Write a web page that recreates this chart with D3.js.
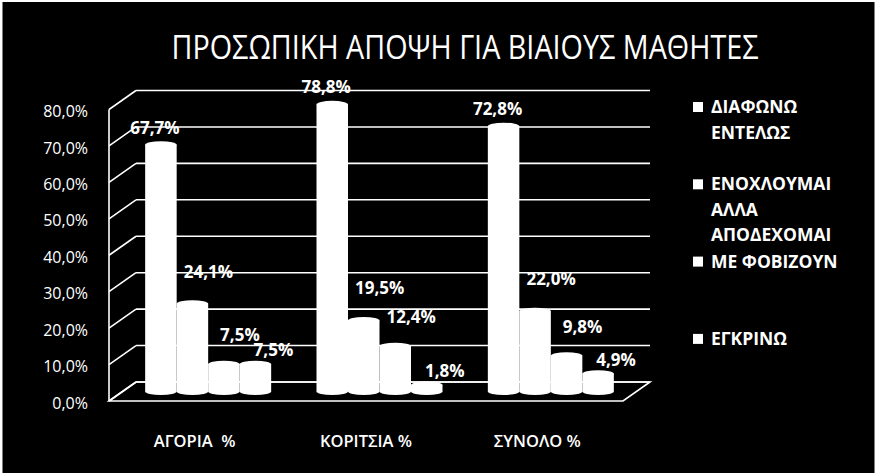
<!DOCTYPE html>
<html>
<head>
<meta charset="utf-8">
<script src="https://cdn.jsdelivr.net/npm/d3@7"></script>
<style>
  html, body { margin: 0; padding: 0; background: #fff; }
  svg { display: block; }
  text { font-family: "Open Sans", "DejaVu Sans", sans-serif; fill: #fff; }
</style>
</head>
<body>
<svg id="chart" width="877" height="473"></svg>
<script>
const title = 'ΠΡΟΣΩΠΙΚΗ ΑΠΟΨΗ ΓΙΑ ΒΙΑΙΟΥΣ ΜΑΘΗΤΕΣ';
const categories = ['ΑΓΟΡΙΑ  %', 'ΚΟΡΙΤΣΙΑ %', 'ΣΥΝΟΛΟ %'];
const seriesNames = ['ΔΙΑΦΩΝΩ ΕΝΤΕΛΩΣ', 'ΕΝΟΧΛΟΥΜΑΙ ΑΛΛΑ ΑΠΟΔΕΧΟΜΑΙ', 'ΜΕ ΦΟΒΙΖΟΥΝ', 'ΕΓΚΡΙΝΩ'];
const legendLines = [['ΔΙΑΦΩΝΩ', 'ΕΝΤΕΛΩΣ'], ['ΕΝΟΧΛΟΥΜΑΙ', 'ΑΛΛΑ', 'ΑΠΟΔΕΧΟΜΑΙ'], ['ΜΕ ΦΟΒΙΖΟΥΝ'], ['ΕΓΚΡΙΝΩ']];
const diafono = [67.7, 78.8, 72.8];
const enoxloumai = [24.1, 19.5, 22.0];
const fovizoun = [7.5, 12.4, 9.8];
const egkrino = [7.5, 1.8, 4.9];
const yTicks = [0, 10, 20, 30, 40, 50, 60, 70, 80];

const values = [diafono, enoxloumai, fovizoun, egkrino];

// 3D look: depth shift of the back wall
const DX = 27, DY = -19;
const barW = 31.5, ry = 3.5;
// label nudges per series (Excel places them a bit off the bar top)
const labelDx = [-6, 16, 16, 18];
const labelDy = [11, 26, 23, 8];

const svg = d3.select('#chart');
svg.append('rect').attr('x', 2.5).attr('y', 2).attr('width', 872).attr('height', 471).attr('fill', '#000');

svg.append('text').attr('x', 465).attr('y', 59).attr('text-anchor', 'middle')
  .attr('font-size', 32).attr('textLength', 587).attr('lengthAdjust', 'spacingAndGlyphs')
  .text(title);

const x = d3.scaleBand().domain(categories).range([109, 623]);
const xs = d3.scaleBand().domain(seriesNames).range([0, barW * 4]);
const yFront = d3.scaleLinear().domain([0, 80]).range([401, 109.5]);
const yMid = (v) => yFront(v) + DY / 2;
const fmt = (v) => d3.format('.1f')(v).replace('.', ',') + '%';

const grid = svg.append('g').attr('stroke', '#fff').attr('stroke-width', 1.6).attr('fill', 'none');
const x0 = x.range()[0], x1 = x.range()[1];
// back wall lines
grid.selectAll('line.h').data(yTicks).join('line').attr('class', 'h')
  .attr('x1', x0 + DX).attr('x2', x1 + DX)
  .attr('y1', (d) => yFront(d) + DY).attr('y2', (d) => yFront(d) + DY);
// side wall lines
grid.selectAll('line.s').data(yTicks).join('line').attr('class', 's')
  .attr('x1', x0).attr('x2', x0 + DX)
  .attr('y1', (d) => yFront(d)).attr('y2', (d) => yFront(d) + DY);
grid.append('line').attr('x1', x0).attr('x2', x0).attr('y1', yFront(0)).attr('y2', yFront(80));
// floor
grid.append('path').attr('d', `M${x0},${yFront(0)}L${x1},${yFront(0)}L${x1 + DX},${yFront(0) + DY}L${x0 + DX},${yFront(0) + DY}Z`);

// y tick labels
svg.append('g').selectAll('text').data(yTicks).join('text')
  .attr('x', 88).attr('y', (d) => yFront(d) + 2).attr('dy', '0.35em')
  .attr('text-anchor', 'end').attr('font-size', 16).text(fmt);

// cylinders
const bars = [];
categories.forEach((c, ci) => {
  seriesNames.forEach((s, si) => {
    const left = x(c) + x.bandwidth() / 2 + DX / 2 - barW * 2 + xs(s);
    bars.push({ c, s, si, v: values[si][ci], cx: left + barW / 2 });
  });
});
const cyl = svg.append('g').selectAll('g').data(bars).join('g');
cyl.append('rect')
  .attr('x', (d) => d.cx - barW / 2).attr('width', barW)
  .attr('y', (d) => yMid(d.v)).attr('height', (d) => yMid(0) - yMid(d.v))
  .attr('fill', '#fff');
cyl.append('ellipse').attr('cx', (d) => d.cx).attr('cy', yMid(0))
  .attr('rx', barW / 2).attr('ry', ry).attr('fill', '#fff');
cyl.append('ellipse').attr('cx', (d) => d.cx).attr('cy', (d) => yMid(d.v))
  .attr('rx', barW / 2).attr('ry', ry).attr('fill', '#fff');

// value labels
svg.append('g').selectAll('text').data(bars).join('text')
  .attr('x', (d) => d.cx + labelDx[d.si]).attr('y', (d) => yMid(d.v) - labelDy[d.si])
  .attr('text-anchor', 'middle').attr('font-size', 17).attr('font-weight', 'bold')
  .text((d) => fmt(d.v));

// category labels
svg.append('g').selectAll('text').data(categories).join('text')
  .attr('x', (d) => x(d) + x.bandwidth() / 2).attr('y', 447)
  .attr('text-anchor', 'middle').attr('font-size', 16.5).attr('font-weight', 600)
  .style('white-space', 'pre')
  .text((d) => d);

// legend
const leg = svg.append('g').selectAll('g').data(legendLines).join('g')
  .attr('transform', (d, i) => `translate(693,${107 + i * 77.3})`);
leg.append('rect').attr('x', 0).attr('y', -5).attr('width', 10).attr('height', 10).attr('fill', '#fff');
leg.selectAll('text').data((d) => d).join('text')
  .attr('x', 18).attr('y', (d, i) => i * 25.5).attr('dy', '0.35em')
  .attr('font-size', 17.5).attr('font-weight', 'bold').text((d) => d);
</script>
</body>
</html>
